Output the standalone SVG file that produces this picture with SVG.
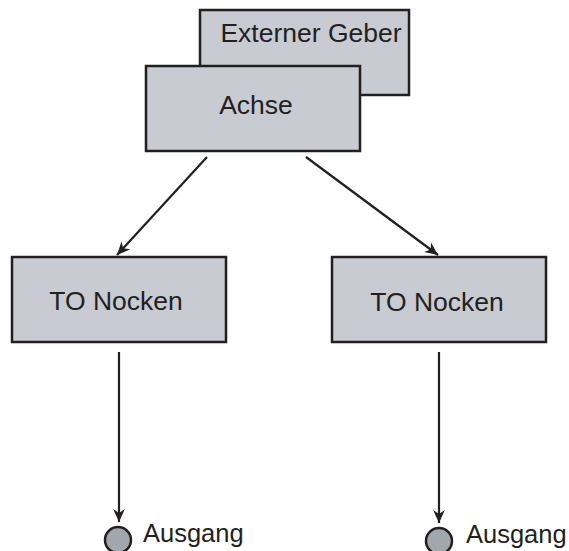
<svg xmlns="http://www.w3.org/2000/svg" width="569" height="551" viewBox="0 0 569 551">
<defs>
<style>
.box{fill:#c8cbd2;stroke:#231f20;stroke-width:2.5}
.lbl{font-family:"Liberation Sans",Arial,sans-serif;font-size:26.5px;fill:#231f20}
.out{font-size:25.5px}
.edge{stroke:#231f20;stroke-width:2.2;fill:none}
.port{fill:#a2a6ad;stroke:#231f20;stroke-width:2.5}
</style>
<marker id="ah" viewBox="0 0 10 10" refX="10" refY="5" markerWidth="13" markerHeight="13" markerUnits="userSpaceOnUse" orient="auto">
<path d="M0,0.5 L10,5 L0,9.5 L3,5 Z" fill="#231f20"/>
</marker>
</defs>
<rect width="569" height="551" fill="#ffffff"/>
<g id="externer-geber">
<rect class="box" x="200" y="10" width="209" height="85"/>
<text class="lbl" x="311" y="42" text-anchor="middle">Externer Geber</text>
</g>
<g id="achse">
<rect class="box" x="146" y="66" width="214" height="85"/>
<text class="lbl" x="256" y="114" text-anchor="middle">Achse</text>
</g>
<g id="to-nocken-1">
<rect class="box" x="12" y="257" width="214" height="85"/>
<text class="lbl" x="116" y="310" text-anchor="middle">TO Nocken</text>
</g>
<g id="to-nocken-2">
<rect class="box" x="332" y="257" width="214" height="85"/>
<text class="lbl" x="437" y="311" text-anchor="middle">TO Nocken</text>
</g>
<g id="ausgang-1">
<circle class="port" cx="118" cy="540" r="13"/>
<text class="lbl out" x="143" y="542">Ausgang</text>
</g>
<g id="ausgang-2">
<circle class="port" cx="439" cy="541" r="13"/>
<text class="lbl out" x="466" y="543">Ausgang</text>
</g>
<g id="connectors">
<line class="edge" x1="207" y1="157" x2="117" y2="255" marker-end="url(#ah)"/>
<line class="edge" x1="306" y1="157" x2="438" y2="255" marker-end="url(#ah)"/>
<line class="edge" x1="119" y1="352" x2="119" y2="522" marker-end="url(#ah)"/>
<line class="edge" x1="439" y1="352" x2="439" y2="523" marker-end="url(#ah)"/>
</g>
</svg>
